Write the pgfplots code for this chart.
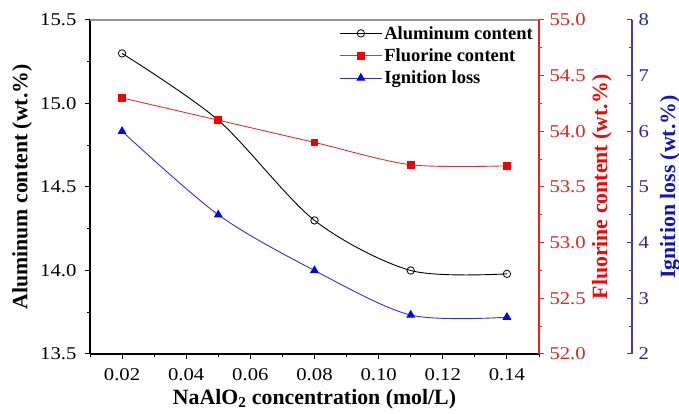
\documentclass[border=0pt]{standalone}
\usepackage{pgfplots}
\pgfplotsset{compat=1.18}
\usepackage{fontspec}
\setmainfont{Liberation Serif}
\newfontfamily\tickfont{Liberation Serif}[FakeStretch=1.15]
\definecolor{axred}{RGB}{225,35,35}
\definecolor{linered}{RGB}{225,50,50}
\definecolor{mkred}{RGB}{240,0,0}
\definecolor{lineblue}{RGB}{50,50,200}
\definecolor{mkblue}{RGB}{0,0,240}
\definecolor{axblue}{RGB}{60,60,190}
\definecolor{tickblue}{RGB}{40,40,150}
\definecolor{labblue}{RGB}{20,20,190}

\pgfplotsset{
  base/.style={
    scale only axis, width=449pt, height=334pt,
    xmin=0.01, xmax=0.15,
    at={(90pt,60pt)}, anchor=south west,
    /pgf/number format/assume math mode=true,
    tick label style={font=\tickfont\fontsize{18}{20}\selectfont},
    label style={font=\bfseries\fontsize{21.8}{24}\selectfont},
    major tick length=5pt, minor tick length=3pt,
    tick align=outside,
    axis line style={line width=1.1pt},
    every tick/.style={line width=1pt},
  },
  alstyle/.style={black, line width=0.9pt, smooth, mark=o, mark size=3.7pt, mark options={fill=white, line width=0.8pt}},
  fstyle/.style={linered, line width=0.9pt, smooth, mark=square*, mark size=3.4pt, mark options={fill=mkred, draw=mkred}},
  istyle/.style={lineblue, line width=0.9pt, smooth, mark=triangle*, mark size=4.3pt, mark options={fill=mkblue, draw=mkblue}},
}

\begin{document}
\begin{tikzpicture}
% main axis: aluminum
\begin{axis}[base,
  ymin=13.5, ymax=15.5,
  axis x line*=bottom, axis y line*=left,
  clip=false,
  xtick={0.02,0.04,0.06,0.08,0.10,0.12,0.14},
  minor xtick={0.01,0.03,0.05,0.07,0.09,0.11,0.13,0.15},
  ytick={13.5,14.0,14.5,15.0,15.5},
  minor ytick={13.75,14.25,14.75,15.25},
  xticklabel style={/pgf/number format/fixed, /pgf/number format/fixed zerofill, /pgf/number format/precision=2, yshift=-6pt},
  yticklabel style={/pgf/number format/fixed, /pgf/number format/fixed zerofill, /pgf/number format/precision=1, xshift=-5pt},
  xlabel={NaAlO\textsubscript{2} concentration (mol/L)},
  ylabel={Aluminum content (wt.\%)},
  xlabel style={at={(axis description cs:0.5,-0.135)}, anchor=center},
  ylabel style={at={(axis description cs:-0.151,0.5)}, anchor=center},
  legend style={at={(axis cs:0.1497,15.488)}, anchor=north east, draw=none, fill=none,
    font=\bfseries\fontsize{18.5}{20}\selectfont, row sep=4pt},
  legend cell align=left,
  legend image code/.code={\draw[mark repeat=2,mark phase=2,#1] plot coordinates {(0pt,0pt) (21pt,0pt) (42pt,0pt)};},
]
\draw[gray!85, line width=1.2pt] (rel axis cs:0,1) -- (rel axis cs:1,1);
\addplot[alstyle] coordinates {(0.02,15.30) (0.05,14.90) (0.08,14.30) (0.11,14.00) (0.14,13.98)};
\addlegendentry{Aluminum content}
\addlegendimage{fstyle}
\addlegendentry{Fluorine content}
\addlegendimage{istyle}
\addlegendentry{Ignition loss}
\end{axis}
% fluorine axis (red, right)
\begin{axis}[base,
  ymin=52, ymax=55,
  axis x line=none, axis y line*=right,
  ytick={52.0,52.5,53.0,53.5,54.0,54.5,55.0},
  minor ytick={52.25,52.75,53.25,53.75,54.25,54.75},
  yticklabel style={/pgf/number format/fixed, /pgf/number format/fixed zerofill, /pgf/number format/precision=1, text=axred, xshift=2pt},
  y axis line style={axred}, ytick style={axred},
  ylabel={Fluorine content (wt.\%)},
  ylabel style={at={(axis description cs:1.14,0.5)}, anchor=center, text=red},
]
\addplot[fstyle] coordinates {(0.02,54.30) (0.05,54.10) (0.08,53.90) (0.11,53.70) (0.14,53.69)};
\end{axis}
% ignition data (hidden axis, aligned with main)
\begin{axis}[base, ymin=2, ymax=8, hide axis]
\addplot[istyle] coordinates {(0.02,6.00) (0.05,4.50) (0.08,3.50) (0.11,2.70) (0.14,2.66)};
\end{axis}
% ignition axis (blue, offset)
\begin{axis}[base, at={(183pt,60pt)},
  ymin=2, ymax=8,
  axis x line=none, axis y line*=right,
  tick align=inside,
  ytick={2,3,4,5,6,7,8},
  minor ytick={2.5,3.5,4.5,5.5,6.5,7.5},
  y axis line style={axblue}, ytick style={axblue},
  yticklabel style={text=tickblue, xshift=3pt},
  ylabel={Ignition loss (wt.\%)},
  ylabel style={at={(axis description cs:1.0846,0.5)}, anchor=center, text=labblue},
]
\addplot[draw=none] coordinates {(0.05,5)};
\end{axis}
\pgfresetboundingbox
\path[use as bounding box] (0,0) rectangle (679pt,414pt);
\end{tikzpicture}
\end{document}
